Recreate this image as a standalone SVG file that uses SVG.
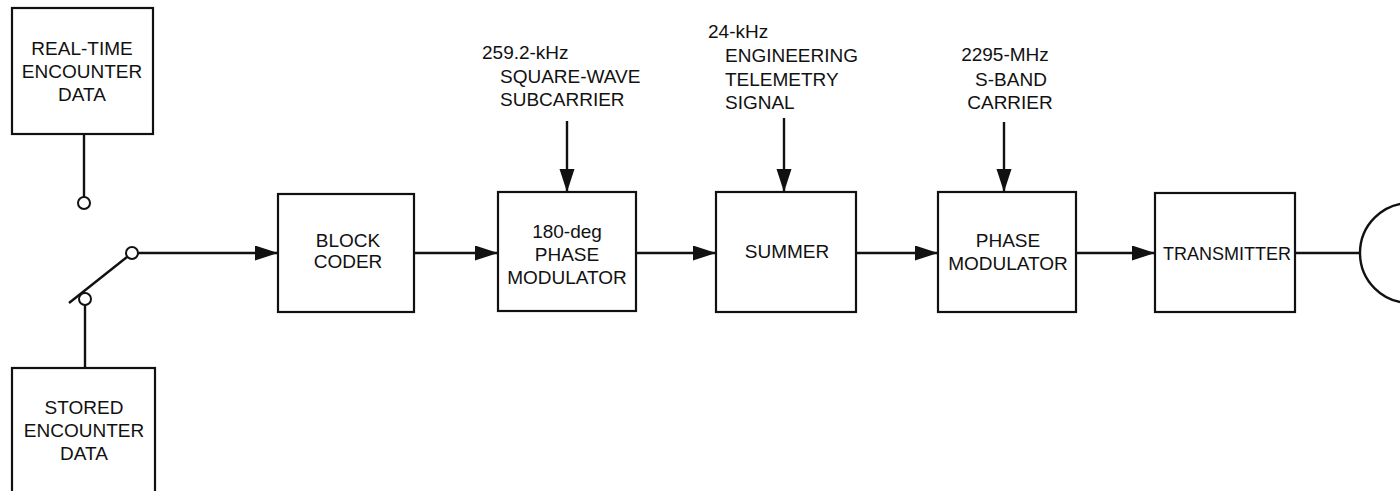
<svg xmlns="http://www.w3.org/2000/svg" width="1400" height="491" viewBox="0 0 1400 491">
<style>
.box{fill:#fff;stroke:#111;stroke-width:2.2}
.ln{fill:none;stroke:#111;stroke-width:2.4}
.t{font-family:"Liberation Sans",Arial,sans-serif;font-size:19px;fill:#111}
.c{text-anchor:middle}
.term{fill:#fff;stroke:#111;stroke-width:2}
</style>
<defs>
<marker id="arr" markerUnits="userSpaceOnUse" markerWidth="24" markerHeight="16" refX="23" refY="7.5" orient="auto">
<path d="M0,0 L23,7.5 L0,15 z" fill="#111"/>
</marker>
</defs>
<rect width="1400" height="491" fill="#fff"/>
<g id="connectors">
<line class="ln" x1="84" y1="134" x2="84" y2="197"/>
<line class="ln" x1="85" y1="305" x2="85" y2="368"/>
<line class="ln" x1="69" y1="303" x2="127" y2="257"/>
<line class="ln" x1="138" y1="253" x2="278" y2="253" marker-end="url(#arr)"/>
<line class="ln" x1="414" y1="253" x2="498" y2="253" marker-end="url(#arr)"/>
<line class="ln" x1="636" y1="253" x2="716" y2="253" marker-end="url(#arr)"/>
<line class="ln" x1="856" y1="253" x2="938" y2="253" marker-end="url(#arr)"/>
<line class="ln" x1="1076" y1="253" x2="1155" y2="253" marker-end="url(#arr)"/>
<line class="ln" x1="1295" y1="253" x2="1360" y2="253"/>
<line class="ln" x1="567" y1="121" x2="567" y2="192" marker-end="url(#arr)"/>
<line class="ln" x1="784" y1="118" x2="784" y2="192" marker-end="url(#arr)"/>
<line class="ln" x1="1004" y1="122" x2="1004" y2="192" marker-end="url(#arr)"/>
<circle class="term" cx="84" cy="203" r="6"/>
<circle class="term" cx="85" cy="299" r="6"/>
<circle class="term" cx="132" cy="253" r="6"/>
</g>
<g id="realtime">
<rect class="box" x="12" y="8" width="141" height="126"/>
<text class="t c" x="82" y="55">REAL-TIME</text>
<text class="t c" x="82" y="78">ENCOUNTER</text>
<text class="t c" x="82" y="101">DATA</text>
</g>
<g id="stored">
<rect class="box" x="12" y="368" width="143" height="140"/>
<text class="t c" x="84" y="414">STORED</text>
<text class="t c" x="84" y="437">ENCOUNTER</text>
<text class="t c" x="84" y="460">DATA</text>
</g>
<g id="blockcoder">
<rect class="box" x="278" y="194" width="136" height="118"/>
<text class="t c" x="348" y="247">BLOCK</text>
<text class="t c" x="348" y="268">CODER</text>
</g>
<g id="pm180">
<rect class="box" x="498" y="192" width="138" height="119"/>
<text class="t c" x="567" y="238">180-deg</text>
<text class="t c" x="567" y="261">PHASE</text>
<text class="t c" x="567" y="284">MODULATOR</text>
</g>
<g id="subcarrier">
<text class="t" x="482" y="59">259.2-kHz</text>
<text class="t" x="500" y="83">SQUARE-WAVE</text>
<text class="t" x="500" y="106">SUBCARRIER</text>
</g>
<g id="summer">
<rect class="box" x="716" y="192" width="140" height="120"/>
<text class="t c" x="787" y="258">SUMMER</text>
</g>
<g id="engsignal">
<text class="t" x="708" y="38">24-kHz</text>
<text class="t" x="725" y="62">ENGINEERING</text>
<text class="t" x="725" y="86">TELEMETRY</text>
<text class="t" x="725" y="109">SIGNAL</text>
</g>
<g id="pm">
<rect class="box" x="938" y="192" width="138" height="120"/>
<text class="t c" x="1008" y="247">PHASE</text>
<text class="t c" x="1008" y="270">MODULATOR</text>
</g>
<g id="carrier">
<text class="t c" x="1005" y="61">2295-MHz</text>
<text class="t c" x="1011" y="86">S-BAND</text>
<text class="t c" x="1010" y="109">CARRIER</text>
</g>
<g id="transmitter">
<rect class="box" x="1155" y="193" width="140" height="119"/>
<text class="t c" x="1227" y="260" style="font-size:18px">TRANSMITTER</text>
</g>
<g id="antenna">
<circle cx="1410" cy="253" r="50" fill="#fff" stroke="#111" stroke-width="2.4"/>
</g>
</svg>
